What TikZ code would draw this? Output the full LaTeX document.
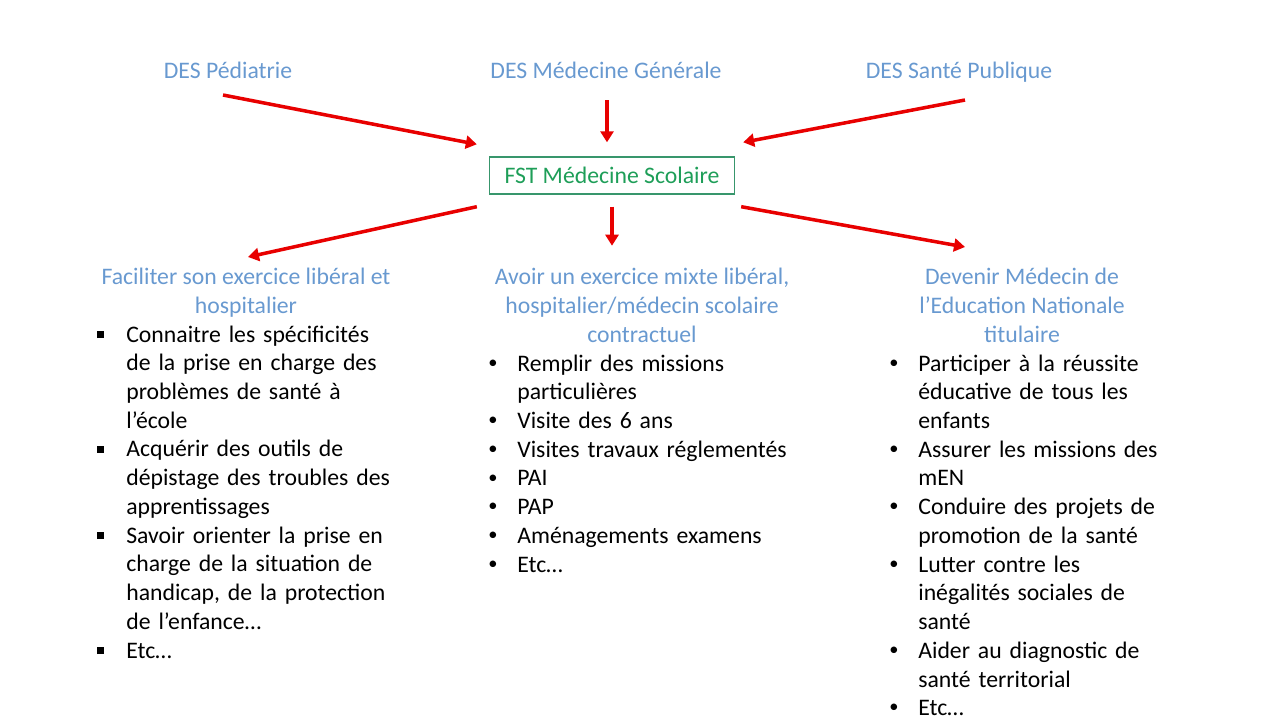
\documentclass[tikz,border=0pt]{standalone}
\usepackage{fontspec}
\setmainfont{Carlito}
\usetikzlibrary{arrows.meta,calc}
\definecolor{desblue}{RGB}{104,153,208}
\definecolor{fstgreen}{RGB}{30,158,88}
\definecolor{fstline}{RGB}{56,150,108}
\definecolor{arrred}{RGB}{232,0,0}
\newcommand{\sqbul}{\rule[0.17em]{0.3em}{0.3em}}
\newcommand{\dotbul}{\raisebox{0.12em}{\fontsize{10.5pt}{10.5pt}\selectfont •}}
\newenvironment{plist}[1]{\begin{list}{#1\hfill}{%
  \setlength{\leftmargin}{0.58cm}\setlength{\labelwidth}{0.58cm}%
  \setlength{\labelsep}{0pt}\setlength{\itemsep}{0pt}\setlength{\parsep}{0pt}%
  \setlength{\topsep}{0pt}\setlength{\partopsep}{0pt}\raggedright}}{\end{list}}
\begin{document}
\begin{tikzpicture}[
  x=0.02cm, y=-0.02cm,
  every node/.style={font=\fontsize{13.5pt}{16.35pt}\selectfont, inner sep=0pt},
  des/.style={text=desblue, anchor=base},
  goal/.style={text=desblue, align=center, anchor=north},
  items/.style={anchor=north west, text width=7cm, align=left},
  fstbox/.style={draw=fstline, thick, text=fstgreen, minimum width=4.9cm, minimum height=0.74cm},
  redarr/.style={draw=arrred, line width=2pt, -{Triangle[length=0.22cm, width=0.26cm]}}
]
\useasboundingbox (0,0) rectangle (1280,720);

% sources
\node[des] (ped) at (228,78) {DES Pédiatrie};
\node[des] (mg) at (606,78) {DES Médecine Générale};
\node[des] (sp) at (959,78) {DES Santé Publique};

\node[fstbox] (fst) at (612,175.5) {FST Médecine Scolaire};

% three ways out
\node[goal] (hl) at (246,268) {Faciliter son exercice libéral et\\hospitalier};
\node[goal] (hm) at (642,268) {Avoir un exercice mixte libéral,\\hospitalier/médecin scolaire\\contractuel};
\node[goal] (hr) at (1022,268) {Devenir Médecin de\\l’Education Nationale\\titulaire};

\node[items] (ll) at (97,313) {\begin{plist}{\sqbul}
  \item Connaitre les spécificités\\de la prise en charge des\\problèmes de santé à\\l’école
  \item Acquérir des outils de\\dépistage des troubles des\\apprentissages
  \item Savoir orienter la prise en\\charge de la situation de\\handicap, de la protection\\de l’enfance…
  \item Etc…
\end{plist}};
\node[items] (ml) at (488,342) {\begin{plist}{\dotbul}
  \item Remplir des missions\\particulières
  \item Visite des 6 ans
  \item Visites travaux réglementés
  \item PAI
  \item PAP
  \item Aménagements examens
  \item Etc…
\end{plist}};
\node[items] (rl) at (889,342) {\begin{plist}{\dotbul}
  \item Participer à la réussite\\éducative de tous les\\enfants
  \item Assurer les missions des\\mEN
  \item Conduire des projets de\\promotion de la santé
  \item Lutter contre les\\inégalités sociales de\\santé
  \item Aider au diagnostic de\\santé territorial
  \item Etc…
\end{plist}};

% arrows
\draw[redarr] ($(ped.base)+(-5,17)$) -- ($(fst.north west)+(-12,-12)$);
\draw[redarr] ($(mg.base)+(1,22)$) -- ($(fst.north)+(-5,-14)$);
\draw[redarr] ($(sp.base)+(6,22)$) -- ($(fst.north east)+(8,-14)$);
\draw[redarr] ($(fst.south west)+(-12,12)$) -- ($(hl.north)+(2,-11)$);
\draw[redarr] ($(fst.south)+(0,12)$) -- ($(fst.south)+(0,51)$);
\draw[redarr] ($(fst.south east)+(6,12)$) -- ($(hr.north)+(-57,-21)$);
\end{tikzpicture}
\end{document}
